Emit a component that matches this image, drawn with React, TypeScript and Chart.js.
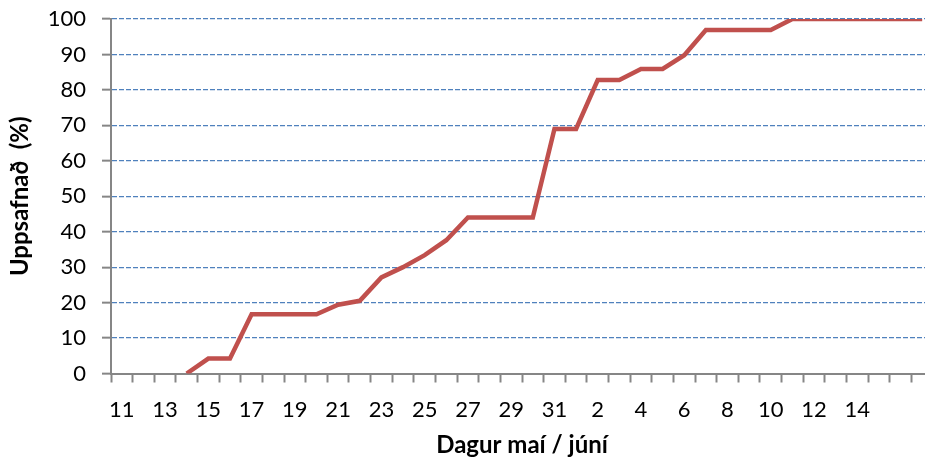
import React, { useEffect, useRef } from "react";
import { Chart, registerables } from "chart.js";

Chart.register(...registerables);

const days: string[] = [
  "11", "12", "13", "14", "15", "16", "17", "18", "19", "20", "21", "22", "23", "24", "25", "26", "27", "28", "29", "30", "31",
  "1", "2", "3", "4", "5", "6", "7", "8", "9", "10", "11", "12", "13", "14", "15", "16", "17",
];

const cumulative: (number | null)[] = [
  null, null, null, 0, 4.2, 4.2, 16.7, 16.7, 16.7, 16.7, 19.4, 20.5, 27.1, 30.0, 33.4, 37.6, 44.0, 44.0, 44.0, 44.0, 69.0,
  69.0, 82.8, 82.8, 85.9, 85.9, 89.8, 96.9, 96.9, 96.9, 96.9, 100, 100, 100, 100, 100, 100, 100,
];

const lastLabelIndex = 34;

const yTitle = "Uppsafnað  (%)";
const xTitle = "Dagur maí / júní";

export default function App() {
  const ref = useRef<HTMLCanvasElement | null>(null);

  useEffect(() => {
    document.body.style.margin = "0";
    const canvas = ref.current;
    if (!canvas) return;
    const font = "Lato, 'Open Sans', sans-serif";
    const chart = new Chart(canvas, {
      type: "line",
      data: {
        labels: days,
        datasets: [
          {
            data: cumulative,
            borderColor: "#C0504D",
            backgroundColor: "#C0504D",
            borderWidth: 4.5,
            pointRadius: 0,
            tension: 0,
            fill: false,
          },
        ],
      },
      options: {
        animation: false,
        responsive: false,
        layout: { padding: { top: 19, right: 12, left: 0, bottom: 0 } },
        plugins: { legend: { display: false }, tooltip: { enabled: false } },
        scales: {
          x: {
            type: "category",
            offset: true,
            grid: {
              offset: true,
              drawOnChartArea: false,
              drawTicks: true,
              tickLength: 9,
              tickColor: "#868686",
              tickWidth: 2,
            },
            border: { display: true, color: "#868686", width: 2 },
            ticks: {
              autoSkip: false,
              maxRotation: 0,
              minRotation: 0,
              padding: 14,
              color: "#000",
              font: { family: font, size: 22 },
              callback: function (_v: any, index: number) {
                return index % 2 === 0 && index <= lastLabelIndex ? days[index] : "";
              },
            },
            title: {
              display: true,
              text: xTitle,
              color: "#000",
              font: { family: font, size: 24, weight: "bold" },
              padding: { top: 0, bottom: 1 },
            },
            afterFit: (scale: any) => {
              scale.height = 87.5;
              scale.paddingLeft = 0;
              scale.paddingRight = 0;
            },
          },
          y: {
            min: 0,
            max: 100,
            ticks: {
              stepSize: 10,
              padding: 16,
              color: "#000",
              font: { family: font, size: 22 },
            },
            grid: {
              color: (ctx: any) => (ctx.tick && ctx.tick.value === 0 ? "rgba(0,0,0,0)" : "#4F81BD"),
              lineWidth: 1.3,
              tickColor: "#868686",
              tickLength: 9,
              tickWidth: 2,
            },
            border: { display: true, color: "#868686", width: 2, dash: [5, 2] },
            title: {
              display: true,
              text: yTitle,
              color: "#000",
              font: { family: font, size: 24, weight: "bold" },
              padding: { top: 6, bottom: 0 },
            },
            afterFit: (scale: any) => {
              scale.width = 111;
              scale.paddingTop = 0;
              scale.paddingBottom = 0;
            },
          },
        },
      },
    } as any);
    return () => chart.destroy();
  }, []);

  return (
    <div style={{ position: "relative", width: 925, height: 461, overflow: "hidden", background: "#fff" }}>
      <canvas ref={ref} width={945} height={461} style={{ display: "block" }} />
    </div>
  );
}
